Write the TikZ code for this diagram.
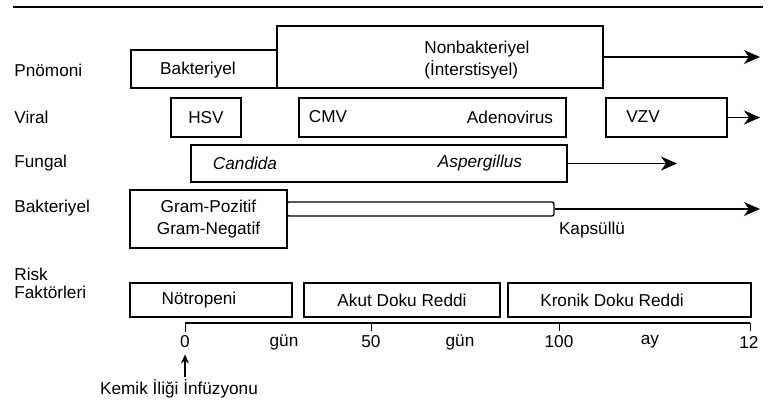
\documentclass[tikz,border=0pt]{standalone}
\usepackage{fontspec}
\setmainfont{Liberation Sans}
\usetikzlibrary{arrows.meta}

\begin{document}
\begin{tikzpicture}[x = 0.5pt, y = -0.5pt,
        font = \fontsize{8.6}{11}\selectfont,
        kutu/.style = {draw, line width = 0.65pt, inner sep = 0pt, align = center},
        etiket/.style = {anchor = west, inner sep = 0pt},
        yazi/.style = {inner sep = 0pt},
        ok/.style = {line width = 0.65pt, -{Stealth[length = 8pt, width = 7pt, inset = 2.5pt]}}]
        \useasboundingbox (0, 0) rectangle (768, 406);

        \draw [line width = 1pt] (13, 7) -- (763, 7);

        \node [etiket] (pnomoni) at (14, 70) {Pnömoni};
        \node [etiket] (viral) at (14, 117) {Viral};
        \node [etiket] (fungal) at (14, 163) {Fungal};
        \node [etiket] (bakteriyel) at (14, 208) {Bakteriyel};
        \node [etiket, align = left] (risk) at (14, 283) {Risk\\[-2pt]Faktörleri};

        \node [kutu, minimum width = 73pt, minimum height = 19pt] (pbak) at (204, 69) {};
        \node [yazi] (pbakyazi) at (198, 70) {Bakteriyel};
        \node [kutu, minimum width = 163pt, minimum height = 31pt] (pnon) at (440, 57) {};
        \node [yazi, anchor = west, align = left] (pnonyazi) at (424, 60) {Nonbakteriyel\\(İnterstisyel)};

        \node [kutu, minimum width = 35pt, minimum height = 19.5pt] (hsv) at (206, 117.5) {HSV};
        \node [kutu, minimum width = 133.5pt, minimum height = 19.5pt] (cmv) at (432.5, 117.5) {};
        \node [yazi] (cmvyazi) at (328, 117) {CMV};
        \node [yazi] (adeno) at (510, 117) {Adenovirus};
        \node [kutu, minimum width = 60.5pt, minimum height = 19.5pt] (vzv) at (666.5, 117.5) {};
        \node [yazi] (vzvyazi) at (643, 117) {VZV};

        \node [kutu, minimum width = 188pt, minimum height = 18.5pt] (fun) at (379, 163.5) {};
        \node [yazi] (candida) at (245, 163) {\textit{Candida}};
        \node [yazi] (asperg) at (480, 163) {\textit{Aspergillus}};

        \node [kutu, minimum width = 78.5pt, minimum height = 29pt] (gram) at (208.5, 219) {Gram-Pozitif\\Gram-Negatif};
        \node [kutu, rounded corners = 1pt, minimum width = 133.5pt, minimum height = 7pt] (kaps) at (420.5, 209) {};
        \node [yazi] (kapsyazi) at (592, 230) {Kapsüllü};

        \node [kutu, minimum width = 81pt, minimum height = 17pt] (notr) at (211, 300) {};
        \node [yazi] (notryazi) at (199, 300) {Nötropeni};
        \node [kutu, minimum width = 98pt, minimum height = 17pt] (akut) at (402, 300) {Akut Doku Reddi};
        \node [kutu, minimum width = 121.5pt, minimum height = 17pt] (kron) at (629.5, 300) {};
        \node [yazi] (kronyazi) at (612, 300) {Kronik Doku Reddi};

        \coordinate (pnonson) at (760, 57);
        \coordinate (vzvson) at (760, 117.5);
        \coordinate (funson) at (677, 163.5);
        \coordinate (kapsson) at (760, 209);

        \draw [ok] (pnon.east) -- (pnonson);
        \draw [ok] (vzv.east) -- (vzvson);
        \draw [ok] (fun.east) -- (funson);
        \draw [ok] (kaps.east) -- (kapsson);

        \coordinate (t0) at (185, 323);
        \coordinate (t50) at (371, 323);
        \coordinate (t100) at (559, 323);
        \coordinate (t12) at (750, 323);

        \draw [line width = 0.8pt] (t0) -- (t12);
        \draw [line width = 0.5pt]
            (t0) -- ++(0, 9)
            (t50) -- ++(0, 8)
            (t100) -- ++(0, 8)
            (t12) -- ++(0, 8)
        ;

        \node [yazi] (sifir) at (185, 342) {0};
        \node [yazi] (gun1) at (284, 342) {gün};
        \node [yazi] (elli) at (371, 342) {50};
        \node [yazi] (gun2) at (460, 342) {gün};
        \node [yazi] (yuz) at (559, 342) {100};
        \node [yazi] (ay) at (650, 342) {ay};
        \node [yazi] (oniki) at (749, 342) {12};

        \node [yazi] (kemik) at (179, 389) {Kemik İliği İnfüzyonu};
        \draw [line width = 0.65pt, -{Stealth[length = 4.5pt, width = 4pt]}, shorten < = 1pt, shorten > = 3pt]
            (kemik.north -| sifir) -- (sifir.south)
        ;
\end{tikzpicture}
\end{document}
